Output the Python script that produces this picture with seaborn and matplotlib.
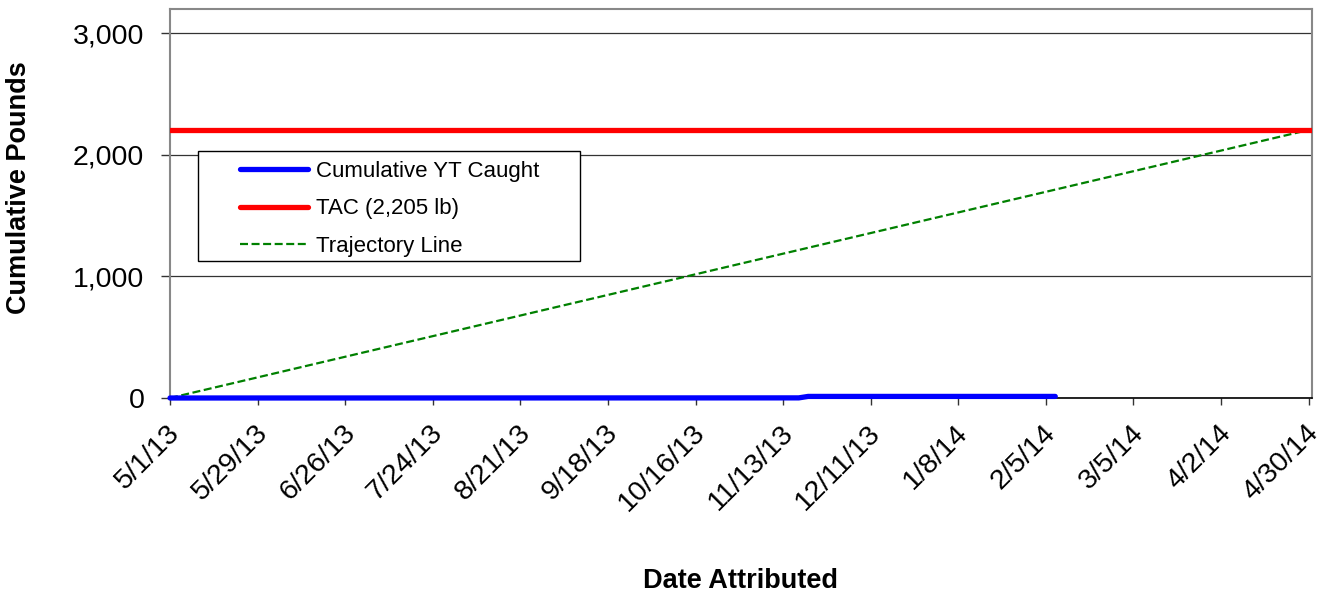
import pandas as pd
import matplotlib.pyplot as plt
from matplotlib.patches import Rectangle
from matplotlib.ticker import FuncFormatter
from matplotlib.transforms import ScaledTranslation
import seaborn as sns

# Du lieu doc tu hinh
caught_dates = ['2013-05-01', '2013-11-18', '2013-11-21', '2014-02-08']
caught_lbs = [0, 1, 13, 13]

tac_dates = ['2013-05-01', '2014-05-01']
tac_lbs = [2205, 2205]

traj_dates = ['2013-05-01', '2014-04-30']
traj_lbs = [0, 2205]

tick_dates = pd.date_range('2013-05-01', '2014-04-30', freq='28D')

df_caught = pd.DataFrame({'date': pd.to_datetime(caught_dates), 'lbs': caught_lbs})
df_tac = pd.DataFrame({'date': pd.to_datetime(tac_dates), 'lbs': tac_lbs})
df_traj = pd.DataFrame({'date': pd.to_datetime(traj_dates), 'lbs': traj_lbs})

sns.set_style('white')
plt.rcParams['font.family'] = ['Liberation Sans', 'DejaVu Sans']
plt.rcParams['text.color'] = 'black'
plt.rcParams['xtick.color'] = 'black'
plt.rcParams['ytick.color'] = 'black'
plt.rcParams['axes.labelcolor'] = 'black'

fig = plt.figure(figsize=(13.23, 5.92), dpi=100)
ax = fig.add_axes([0.1285, 0.3277, 0.863, 0.6571])

ax.yaxis.grid(True, color='#333333', linewidth=0.9)
ax.set_axisbelow(True)

sns.lineplot(data=df_traj, x='date', y='lbs', ax=ax, color='#008000', linewidth=1.6,
             label='Trajectory Line', zorder=2)
ax.lines[-1].set_dashes([3.6, 1.6])
sns.lineplot(data=df_tac, x='date', y='lbs', ax=ax, color='#ff0000', linewidth=3.8,
             label='TAC (2,205 lb)', zorder=3)
sns.lineplot(data=df_caught, x='date', y='lbs', ax=ax, color='#0000ff', linewidth=3.8,
             label='Cumulative YT Caught', zorder=3, solid_capstyle='round', clip_on=False)

ax.set_xlim(pd.Timestamp('2013-05-01'), pd.Timestamp('2014-05-01'))
ax.set_ylim(0, 3200)
ax.set_yticks([0, 1000, 2000, 3000])
ax.yaxis.set_major_formatter(FuncFormatter(lambda v, p: f'{int(v):,}'))
ax.set_xticks(tick_dates)
ax.set_xticklabels([f'{d.month}/{d.day}/{d.strftime("%y")}' for d in tick_dates],
                   rotation=45, ha='right', va='center', rotation_mode='anchor')

ax.tick_params(axis='y', labelsize=20.5, length=6.5, width=1, color='#333333', pad=12, left=True)
ax.tick_params(axis='x', labelsize=20.5, length=5, width=1, color='#333333', pad=17.5, bottom=True)

# dich nhan truc x sang phai mot chut
shift = ScaledTranslation(6 / 100, 0, fig.dpi_scale_trans)
for lbl in ax.get_xticklabels():
    lbl.set_transform(lbl.get_transform() + shift)

for s in ['top', 'right', 'left']:
    ax.spines[s].set_color('#888888')
    ax.spines[s].set_linewidth(1.5)
ax.spines['bottom'].set_color('#000000')
ax.spines['bottom'].set_linewidth(1.2)

ax.set_xlabel('Date Attributed', fontsize=19.5, fontweight='bold')
ax.set_ylabel('Cumulative Pounds', fontsize=19.5, fontweight='bold')
ax.xaxis.set_label_coords(0.5, -0.437)
ax.yaxis.set_label_coords(-0.121, 0.542)

# khung chu thich
frame = Rectangle((0.0245, 0.352), 0.3345, 0.283, transform=ax.transAxes,
                  facecolor='white', edgecolor='black', linewidth=1, zorder=4.5)
ax.add_patch(frame)

handles, labels = ax.get_legend_handles_labels()
order = [2, 1, 0]
leg = ax.legend([handles[i] for i in order], [labels[i] for i in order],
                loc='upper left', bbox_to_anchor=(0.0613, 0.6096), frameon=False,
                fontsize=16, handlelength=3.05, handletextpad=0.36, labelspacing=0.74,
                borderpad=0, borderaxespad=0)
leg.set_zorder(5)

fig.savefig('out.png', dpi=100)
